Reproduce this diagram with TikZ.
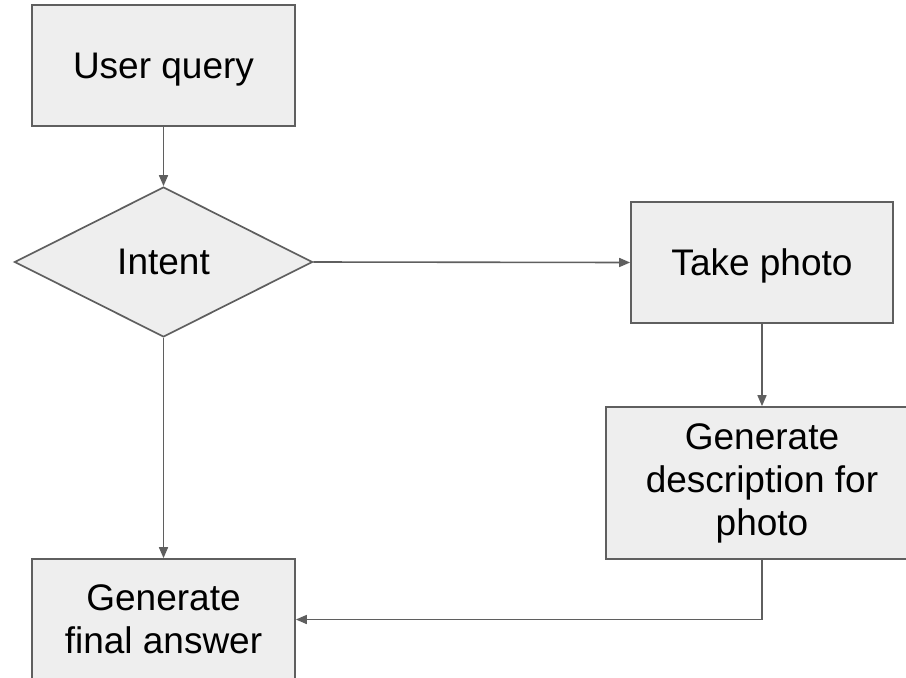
\documentclass[tikz,border=0pt]{standalone}
\usepackage{fontspec}
\setmainfont{Liberation Sans}
\usetikzlibrary{shapes.geometric,arrows.meta}
\definecolor{boxfill}{HTML}{EEEEEE}
\definecolor{edge}{HTML}{5F5F5F}
\tikzset{
  base/.style={draw=edge, fill=boxfill, line width=1.7pt, inner sep=0pt, font=\fontsize{37}{43}\selectfont, align=center},
  procbox/.style={base, rectangle},
  oneline/.style={text depth=0pt},
  decision/.style={base, diamond},
  conn/.style={draw=edge, line width=1.6pt, -{Triangle[length=11pt,width=9pt]}}
}
\begin{document}
\begin{tikzpicture}[x=1pt,y=-1pt]
\useasboundingbox (0,0) rectangle (906,678);
\clip (0,0) rectangle (906,678);
\node[procbox, oneline, minimum width=263pt, minimum height=121pt] (uq) at (163.5,65.5) {User query};
\node[decision, minimum width=298pt, minimum height=150pt] (intent) at (163.5,262) {Intent};
\node[procbox, oneline, minimum width=262pt, minimum height=121pt] (tp) at (762,262.5) {Take photo};
\node[procbox, minimum width=312pt, minimum height=152pt] (gd) at (762,483) {Generate\\description for\\photo};
\node[procbox, minimum width=263pt, minimum height=121pt] (fa) at (163.5,619.5) {Generate\\final answer};
\draw[conn] (uq.south) -- (intent.north);
\draw[conn] (intent.east) -- (tp.west);
\draw[conn] (tp.south) -- (gd.north);
\draw[conn] (gd.south) -- (gd.south |- fa.east) -- (fa.east);
\draw[conn] (intent.south) -- (fa.north);
\end{tikzpicture}
\end{document}
